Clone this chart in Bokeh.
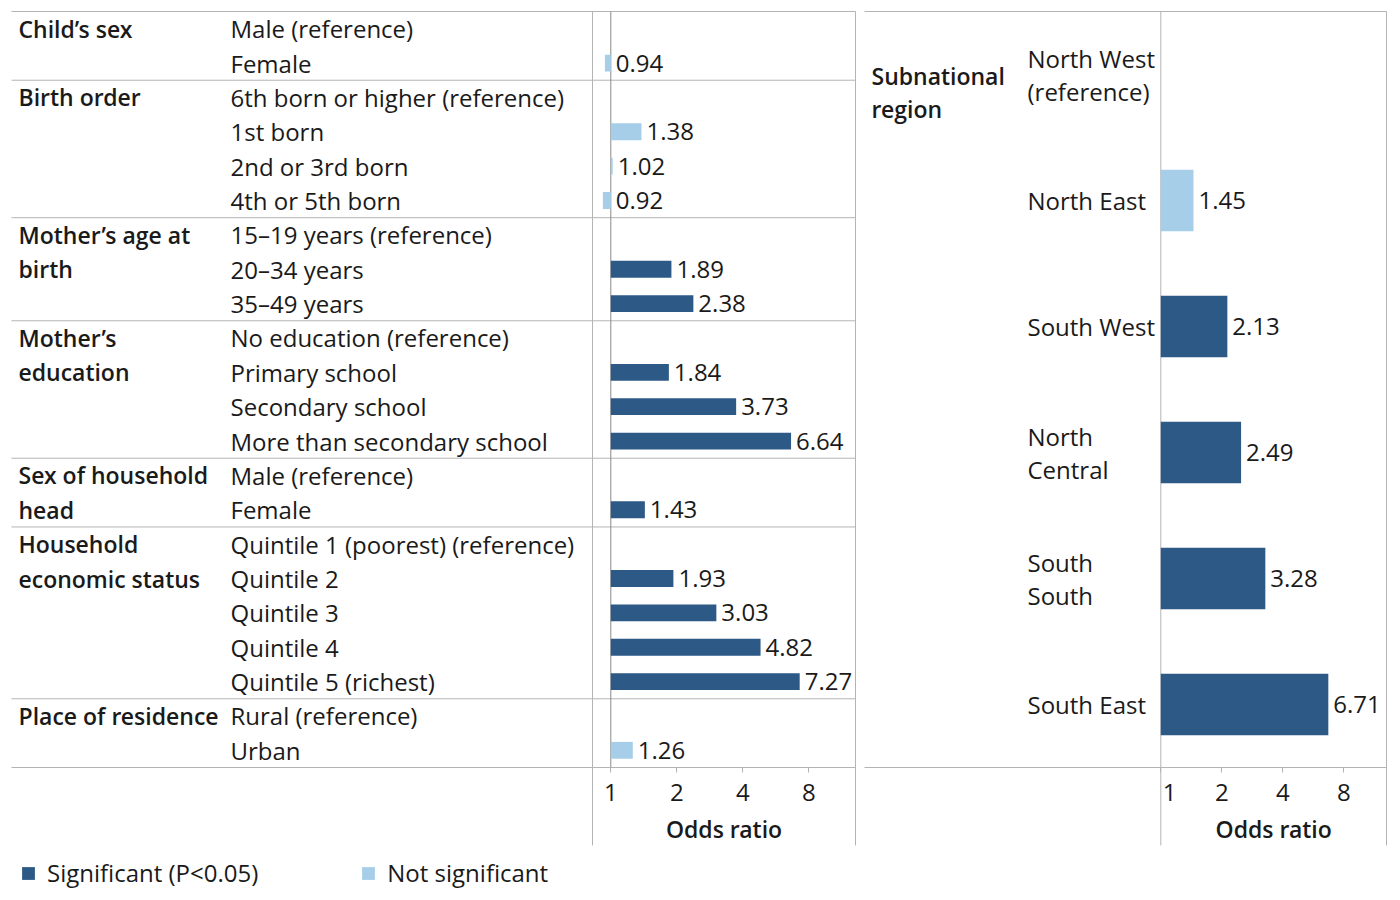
from bokeh.plotting import figure
from bokeh.models import (Range1d, LogScale, LinearScale, LogAxis, FixedTicker,
                          ColumnDataSource, Legend, LegendItem)
from bokeh.core.properties import value
from bokeh.embed import file_html
from bokeh.resources import INLINE

# ---------------- data ----------------
left_groups = ["Child’s sex", "Birth order", "Mother’s age at\nbirth", "Mother’s\neducation",
               "Sex of household\nhead", "Household\neconomic status", "Place of residence"]
left_group_sizes = [2, 4, 3, 4, 2, 5, 2]
left_categories = ["Male (reference)", "Female",
                   "6th born or higher (reference)", "1st born", "2nd or 3rd born", "4th or 5th born",
                   "15–19 years (reference)", "20–34 years", "35–49 years",
                   "No education (reference)", "Primary school", "Secondary school",
                   "More than secondary school",
                   "Male (reference)", "Female",
                   "Quintile 1 (poorest) (reference)", "Quintile 2", "Quintile 3", "Quintile 4",
                   "Quintile 5 (richest)",
                   "Rural (reference)", "Urban"]
left_odds = [None, 0.94,
             None, 1.38, 1.02, 0.92,
             None, 1.89, 2.38,
             None, 1.84, 3.73, 6.64,
             None, 1.43,
             None, 1.93, 3.03, 4.82, 7.27,
             None, 1.26]
left_significant = [False, False,
                    False, False, False, False,
                    False, True, True,
                    False, True, True, True,
                    False, True,
                    False, True, True, True, True,
                    False, False]

right_group = "Subnational\nregion"
right_categories = ["North West\n(reference)", "North East", "South West", "North\nCentral",
                    "South\nSouth", "South East"]
right_odds = [None, 1.45, 2.13, 2.49, 3.28, 6.71]
right_significant = [False, False, True, True, True, True]

axis_ticks = [1, 2, 4, 8]
axis_title = "Odds ratio"
legend_labels = ["Significant (P<0.05)", "Not significant"]

# ---------------- style / layout ----------------
DARK = "#2c5986"
LIGHT = "#a6cee8"
GRID = "#b4b4b4"
AXIS = "#8a8a8a"
INK = "#1a1a1a"
FONT = value("Open Sans")
BOLD_FONT = value("'Open Sans SemiBold', 'Open Sans'")

W, H = 1388, 890
X0, Y0 = 1, 1          # screen position of the figure's top-left corner
TOP, BOTTOM, AX_BOTTOM = 12, 768, 846
L_left, L_bar_left, L_one, L_right, L_oct = 12, 593, 611.3, 856, 66.0
R_left, R_one, R_right, R_oct = 865, 1161.3, 1387, 61.0
L_pitch = (BOTTOM - TOP) / len(left_categories)
R_pitch = (BOTTOM - TOP) / len(right_categories)

p = figure(width=W, height=H, x_range=Range1d(X0, X0 + W), y_range=Range1d(Y0 + H, Y0),
           x_axis_type=None, y_axis_type=None, toolbar_location=None,
           output_backend="svg", min_border=0, outline_line_color=None)


def log_range(one, octave):
    return Range1d(2 ** ((X0 - one) / octave), 2 ** ((X0 + W - one) / octave))


def row_range(pitch):
    c0 = TOP + pitch / 2
    return Range1d((Y0 + H - c0) / pitch, (Y0 - c0) / pitch)


p.extra_x_ranges = {"logL": log_range(L_one, L_oct), "logR": log_range(R_one, R_oct)}
p.extra_x_scales = {"logL": LogScale(), "logR": LogScale()}
p.extra_y_ranges = {"rowsL": row_range(L_pitch), "rowsR": row_range(R_pitch)}
p.extra_y_scales = {"rowsL": LinearScale(), "rowsR": LinearScale()}

# ---------------- grid lines ----------------
bounds = [-0.5]
for s in left_group_sizes:
    bounds.append(bounds[-1] + s)
p.segment(x0=L_left, x1=L_right, y0=bounds, y1=bounds, line_color=GRID, line_width=1,
          y_range_name="rowsL")
rb = [-0.5, len(right_categories) - 0.5]
p.segment(x0=R_left, x1=R_right, y0=rb, y1=rb, line_color=GRID, line_width=1,
          y_range_name="rowsR")
p.segment(x0=[L_bar_left, L_right, R_one, R_right], x1=[L_bar_left, L_right, R_one, R_right],
          y0=TOP, y1=AX_BOTTOM, line_color=GRID, line_width=1)
p.segment(x0=1, x1=1, y0=TOP, y1=BOTTOM, line_color=AXIS, line_width=1, x_range_name="logL")

# ---------------- bars ----------------
def bar_sources(odds, sig):
    s = dict(y=[], v=[])
    n = dict(y=[], v=[])
    for i, (v, g) in enumerate(zip(odds, sig)):
        if v is None:
            continue
        d = s if g else n
        d["y"].append(i)
        d["v"].append(v)
    return ColumnDataSource(s), ColumnDataSource(n)


renderers = {}
for key, odds, sig in (("L", left_odds, left_significant), ("R", right_odds, right_significant)):
    ss, ns = bar_sources(odds, sig)
    rs = p.hbar(y="y", left=1, right="v", height=0.49, source=ss, fill_color=DARK, line_color=None,
                x_range_name="log" + key, y_range_name="rows" + key)
    rn = p.hbar(y="y", left=1, right="v", height=0.49, source=ns, fill_color=LIGHT, line_color=None,
                x_range_name="log" + key, y_range_name="rows" + key)
    renderers[key] = (rs, rn)
    vy = [i for i, v in enumerate(odds) if v is not None]
    vx = [max(v, 1) for v in odds if v is not None]
    vt = ["%.2f" % v for v in odds if v is not None]
    p.text(x=vx, y=vy, text=vt, x_offset=5, text_align="left", text_baseline="middle",
           text_font=FONT, text_font_size="24px", text_color=INK,
           x_range_name="log" + key, y_range_name="rows" + key)

# ---------------- labels ----------------
p.text(x=231, y=list(range(len(left_categories))), text=left_categories, text_align="left",
       text_baseline="middle", text_font=FONT, text_font_size="24px", text_color=INK,
       y_range_name="rowsL")

gy, gt = [], []
start = 0
for g, s in zip(left_groups, left_group_sizes):
    for k, line in enumerate(g.split("\n")):
        gy.append(start + k)
        gt.append(line)
    start += s
p.text(x=19, y=gy, text=gt, text_align="left", text_baseline="middle", text_font=BOLD_FONT,
       text_font_size="23px", text_color=INK, y_range_name="rowsL")

ry, rt, ro = [], [], []
for j, c in enumerate(right_categories):
    lines = c.split("\n")
    for k, line in enumerate(lines):
        ry.append(j)
        rt.append(line)
        ro.append((k - (len(lines) - 1) / 2) * 33)
p.text(x=1028, y=ry, text=rt, y_offset=ro, text_align="left", text_baseline="middle",
       text_font=FONT, text_font_size="24px", text_color=INK, y_range_name="rowsR")

glines = right_group.split("\n")
p.text(x=872, y=[0] * len(glines), text=glines, y_offset=[1 + 33 * k for k in range(len(glines))],
       text_align="left", text_baseline="middle", text_font=BOLD_FONT, text_font_size="23px",
       text_color=INK, y_range_name="rowsR")

# ---------------- axes ----------------
for key, cx in (("L", (L_bar_left + L_right) / 2), ("R", (R_one + R_right) / 2)):
    ax = LogAxis(x_range_name="log" + key, ticker=FixedTicker(ticks=axis_ticks),
                 fixed_location=BOTTOM)
    ax.axis_line_color = None
    ax.major_tick_line_color = GRID
    ax.major_tick_in = 0
    ax.major_tick_out = 5
    ax.minor_tick_line_color = None
    ax.major_label_standoff = 11
    ax.major_label_text_font = "Open Sans"
    ax.major_label_text_font_size = "24px"
    ax.major_label_text_color = INK
    overrides = {t: str(t) for t in axis_ticks}
    if key == "R":
        # in the original the first label is nudged off the panel's edge line;
        # the spacer glyph comes from a fallback font with a taller box, so the
        # standoff is reduced to keep the labels on the same line as the left panel
        overrides[axis_ticks[0]] = "\u2007\u2009" + str(axis_ticks[0])
        ax.major_label_standoff = 2
    ax.major_label_overrides = overrides
    p.add_layout(ax, "below")
    p.text(x=cx, y=829, text=[axis_title], text_align="center", text_baseline="middle",
           text_font=BOLD_FONT, text_font_size="23px", text_color=INK)

# ---------------- legend ----------------
legend = Legend(items=[LegendItem(label=legend_labels[0], renderers=[renderers["L"][0]]),
                       LegendItem(label=legend_labels[1], renderers=[renderers["L"][1]])],
                location=(20, 1), orientation="horizontal", glyph_width=16, glyph_height=16,
                label_standoff=11, spacing=102, padding=0, margin=0,
                border_line_color=None, background_fill_alpha=0,
                label_text_font="Open Sans", label_text_font_size="24px", label_text_color=INK)
p.add_layout(legend)

open("out.html", "w").write(file_html(p, INLINE))
